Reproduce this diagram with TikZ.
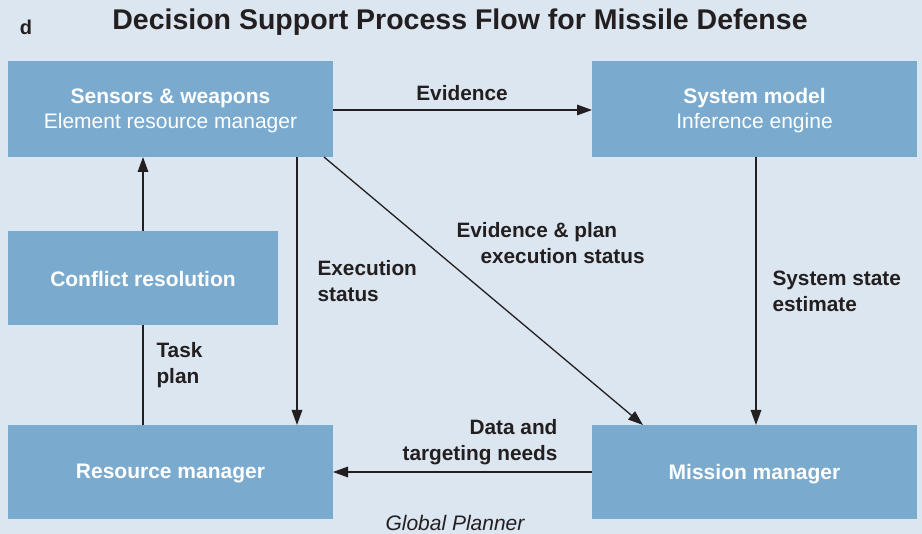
\documentclass[tikz,border=0pt]{standalone}
\usepackage{fontspec}
\setmainfont{Liberation Sans}
\usetikzlibrary{arrows.meta}
\definecolor{bg}{HTML}{DCE6F0}
\definecolor{boxc}{HTML}{7AABCF}
\definecolor{ink}{HTML}{231F20}
\begin{document}
\begin{tikzpicture}[x=1pt,y=-1pt,
  blk/.style={fill=boxc,draw=none,inner sep=0pt},
  btxt/.style={text=white,font=\fontsize{21}{25}\selectfont,align=center},
  lbl/.style={text=ink,font=\bfseries\fontsize{20.8}{26}\selectfont},
  conn/.style={draw=ink,line width=1.6pt,-{Triangle[length=15pt,width=10.5pt]}},
  plain/.style={draw=ink,line width=1.6pt}]
\fill[bg] (0,0) rectangle (922,534);
\useasboundingbox (0,0) rectangle (922,534);
% boxes
\node[blk,minimum width=325pt,minimum height=96pt] (sw) at (170.5,109) {};
\node[blk,minimum width=325pt,minimum height=96pt] (sm) at (754.5,109) {};
\node[blk,minimum width=270pt,minimum height=94pt] (cr) at (143,278) {};
\node[blk,minimum width=325pt,minimum height=94pt] (rm) at (170.5,472) {};
\node[blk,minimum width=325pt,minimum height=94pt] (mm) at (754.5,472) {};
\node[btxt] (swt) at (170.5,111) {\textbf{Sensors \& weapons}\\Element resource manager};
\node[btxt] (smt) at (754.5,111) {\textbf{System model}\\Inference engine};
\node[btxt] (crt) at (143,279) {\textbf{Conflict resolution}};
\node[btxt] (rmt) at (170.5,474) {\textbf{Resource manager}};
\node[btxt] (mmt) at (754.5,474) {\textbf{Mission manager}};
% title
\node[text=ink,font=\bfseries\fontsize{20}{24}\selectfont] (d) at (26,27) {d};
\node[text=ink,font=\bfseries\fontsize{28.5}{32}\selectfont] (title) at (460,22) {Decision Support Process Flow for Missile Defense};
\node[text=ink,font=\itshape\fontsize{21}{24}\selectfont] (gp) at (455,523) {Global Planner};
% connectors
\coordinate (evs) at (333,110);
\coordinate (eve) at (592,110);
\draw[conn] (evs) -- (eve);
\coordinate (exs) at (297,157);
\coordinate (exe) at (297,425);
\draw[conn] (exs) -- (exe);
\coordinate (dgs) at (324,157);
\coordinate (dge) at (643,425);
\draw[conn,line width=1.3pt] (dgs) -- (dge);
\coordinate (sss) at (756,157);
\coordinate (sse) at (756,425);
\draw[conn] (sss) -- (sse);
\coordinate (dts) at (592,472);
\coordinate (dte) at (333,472);
\draw[conn] (dts) -- (dte);
\coordinate (tps) at (143,425);
\coordinate (tpe) at (143,325);
\draw[plain] (tps) -- (tpe);
\coordinate (crs) at (143,231);
\coordinate (cre) at (143,157);
\draw[conn] (crs) -- (cre);
% labels
\node[lbl] (l1) at (462,93) {Evidence};
\node[lbl,align=left,anchor=west] (l2) at (314,281) {Execution\\status};
\node[lbl,align=left,anchor=west] (l3) at (453,243) {Evidence \& plan\\\hspace*{24pt}execution status};
\node[lbl,align=left,anchor=west] (l4) at (769,291) {System state\\estimate};
\node[lbl,align=right,anchor=east] (l5) at (561,442) {Data and\\targeting needs};
\node[lbl,align=left,anchor=west] (l6) at (153,365) {Task\\plan};
\end{tikzpicture}
\end{document}
